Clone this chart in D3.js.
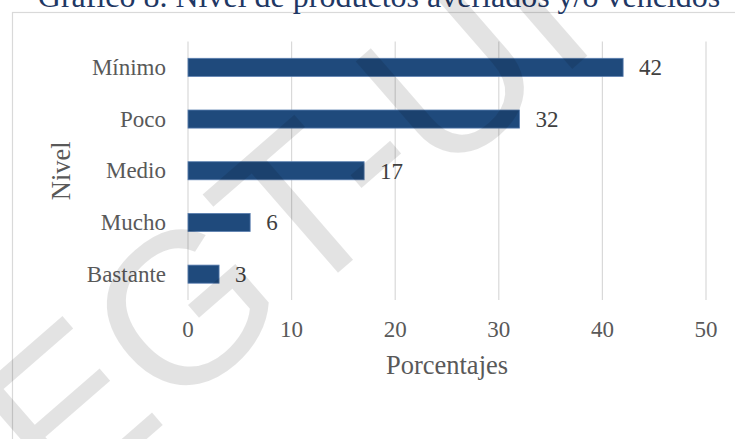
<!DOCTYPE html>
<html>
<head>
<meta charset="utf-8">
<script src="https://cdn.jsdelivr.net/npm/d3@7"></script>
<style>
  html, body { margin: 0; padding: 0; background: #ffffff; }
  svg { display: block; }
</style>
</head>
<body>
<svg id="chart" width="735" height="439"></svg>
<script>
// Nivel de productos averiados y/o vencidos (porcentajes)
const categories = ["Mínimo", "Poco", "Medio", "Mucho", "Bastante"];
const values = [42, 32, 17, 6, 3];
const xTicks = [0, 10, 20, 30, 40, 50];
const titleText = "Gráfico 8. Nivel de productos averiados y/o vencidos";
const xTitle = "Porcentajes";
const yTitle = "Nivel";
const watermarkText = "EGT-UI";

const svg = d3.select("#chart");
const serif = "Liberation Serif";

// chart frame
svg.append("rect")
  .attr("x", 12.5).attr("y", 12.5)
  .attr("width", 740).attr("height", 440)
  .attr("fill", "none")
  .attr("stroke", "#d9d9d9")
  .attr("stroke-width", 1.2);

// title (partly above the frame)
svg.append("text")
  .attr("x", 379).attr("y", 7)
  .attr("text-anchor", "middle")
  .attr("font-family", serif)
  .attr("font-size", 32)
  .attr("fill", "#1f3864")
  .text(titleText);

const plot = { left: 188, right: 706, top: 41.5, bottom: 300 };

const x = d3.scaleLinear().domain([0, 50]).range([plot.left, plot.right]);
const y = d3.scaleBand()
  .domain(categories)
  .range([plot.top, plot.bottom])
  .paddingInner(0.65)
  .paddingOuter(0.325);

// vertical gridlines
svg.append("g")
  .selectAll("line")
  .data(xTicks)
  .join("line")
  .attr("x1", d => x(d)).attr("x2", d => x(d))
  .attr("y1", plot.top).attr("y2", plot.bottom)
  .attr("stroke", "#d9d9d9")
  .attr("stroke-width", 1.2);

// x tick labels
svg.append("g")
  .selectAll("text")
  .data(xTicks)
  .join("text")
  .attr("x", d => x(d))
  .attr("y", 337)
  .attr("text-anchor", "middle")
  .attr("font-family", serif)
  .attr("font-size", 23)
  .attr("fill", "#595959")
  .text(d => d);

// bars
svg.append("g")
  .selectAll("rect")
  .data(values)
  .join("rect")
  .attr("x", x(0))
  .attr("y", (d, i) => y(categories[i]))
  .attr("width", d => x(d) - x(0))
  .attr("height", y.bandwidth())
  .attr("fill", "#1f4a7c")
  .attr("stroke", "#5b7fb0")
  .attr("stroke-width", 0.8);

// category labels
svg.append("g")
  .selectAll("text")
  .data(categories)
  .join("text")
  .attr("x", 166)
  .attr("y", d => y(d) + y.bandwidth() / 2 + 7.5)
  .attr("text-anchor", "end")
  .attr("font-family", serif)
  .attr("font-size", 23)
  .attr("fill", "#595959")
  .text(d => d);

// value labels
svg.append("g")
  .selectAll("text")
  .data(values)
  .join("text")
  .attr("x", d => x(d) + 16)
  .attr("y", (d, i) => y(categories[i]) + y.bandwidth() / 2 + 8)
  .attr("font-family", serif)
  .attr("font-size", 23)
  .attr("fill", "#404040")
  .text(d => d);

// axis titles
svg.append("text")
  .attr("x", (plot.left + plot.right) / 2)
  .attr("y", 374)
  .attr("text-anchor", "middle")
  .attr("font-family", serif)
  .attr("font-size", 26.5)
  .attr("fill", "#595959")
  .text(xTitle);

svg.append("text")
  .attr("transform", `translate(70,${(plot.top + plot.bottom) / 2}) rotate(-90)`)
  .attr("text-anchor", "middle")
  .attr("font-family", serif)
  .attr("font-size", 26.5)
  .attr("fill", "#595959")
  .text(yTitle);

// diagonal watermark over the page
svg.append("text")
  .attr("transform", "translate(332,278) rotate(-41)")
  .attr("text-anchor", "middle")
  .attr("font-family", "Liberation Sans")
  .attr("font-size", 215)
  .attr("fill", "#000000")
  .attr("fill-opacity", 0.11)
  .text(watermarkText);
</script>
</body>
</html>
